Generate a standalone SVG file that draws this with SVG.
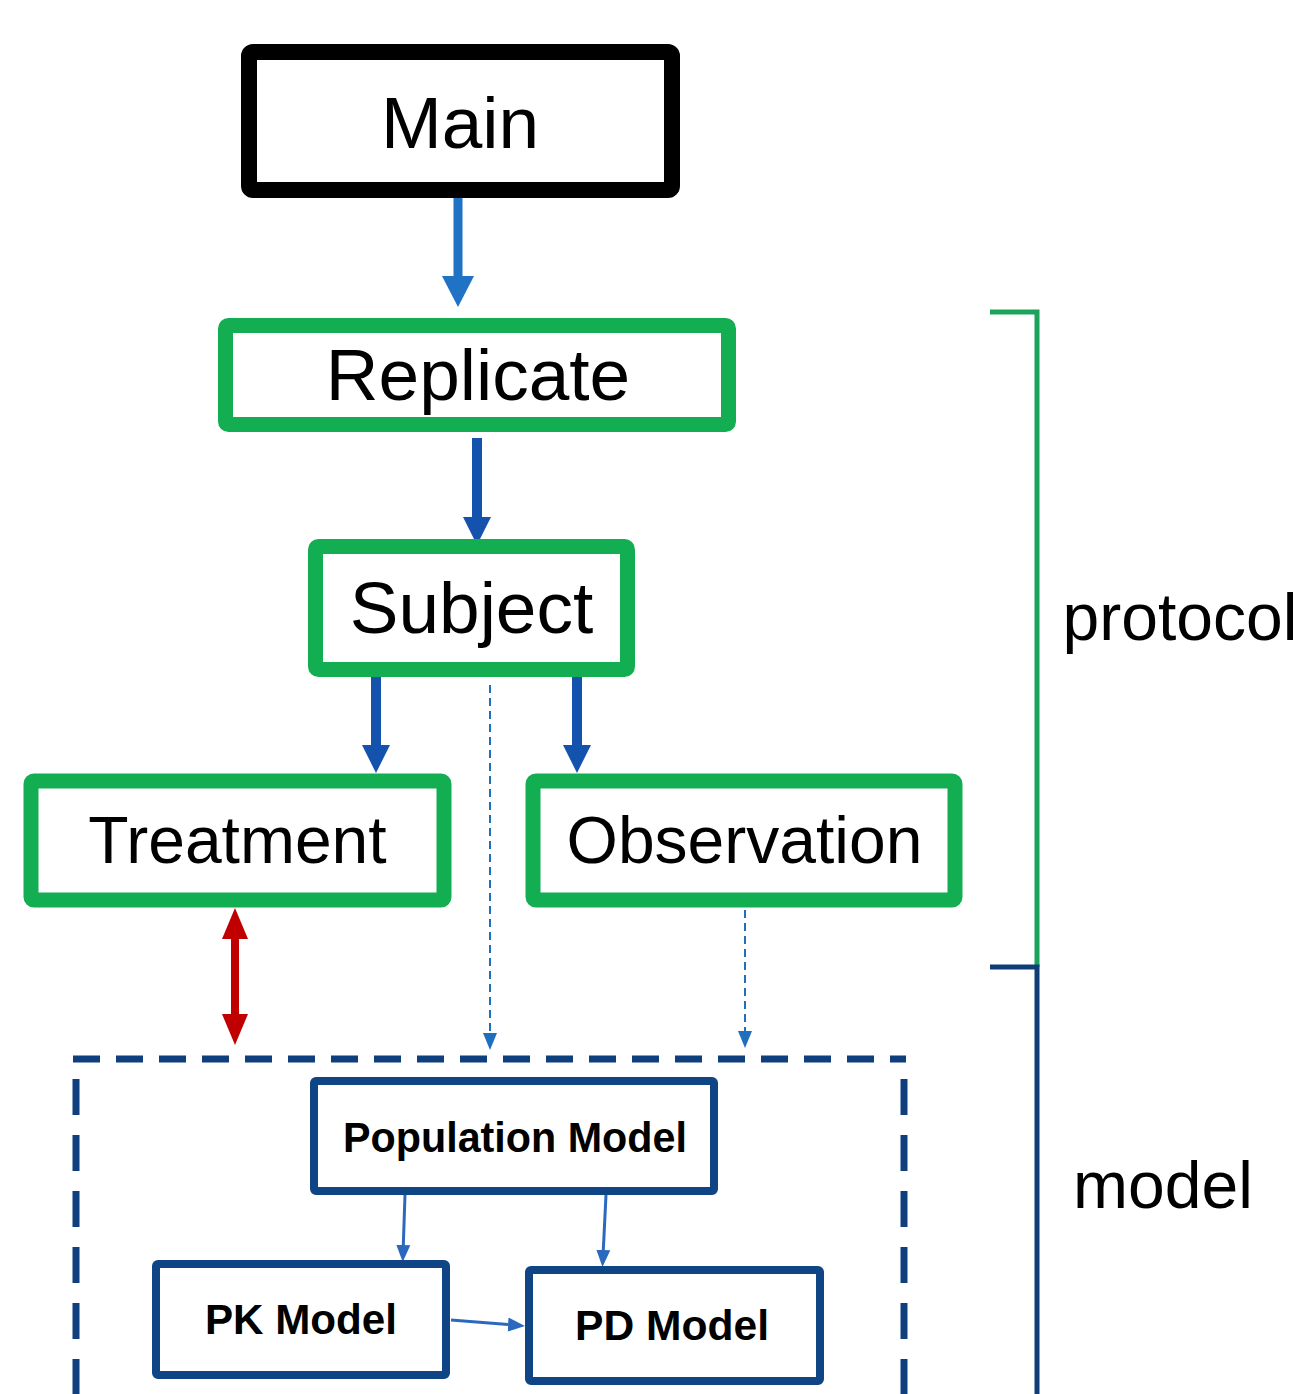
<svg xmlns="http://www.w3.org/2000/svg" width="1303" height="1394" viewBox="0 0 1303 1394">
<style>
text{font-family:"Liberation Sans",Arial,sans-serif;fill:#000;text-anchor:middle}
.big{font-size:73px}
.mid{font-size:66px}
.bold{font-size:43px;font-weight:bold}
.green{fill:#fff;stroke:#13ad52;stroke-width:15}
.mbox{fill:#fff;stroke:#0f4485;stroke-width:8}
.thick{stroke:#1352ad;stroke-width:10;fill:none}
.dash{stroke:#1f6fbf;stroke-width:2;stroke-dasharray:8 5;fill:none}
.thin{stroke:#2a69bd;stroke-width:3;fill:none}
</style>
<defs>
<marker id="aMain" markerUnits="userSpaceOnUse" markerWidth="32" markerHeight="32" refX="0" refY="16" orient="auto" viewBox="0 0 32 32"><path d="M0,0 L31,16 L0,32 z" fill="#1f72c4"/></marker>
<marker id="aBlue" markerUnits="userSpaceOnUse" markerWidth="30" markerHeight="30" refX="0" refY="15" orient="auto" viewBox="0 0 30 30"><path d="M0,1 L28,15 L0,29 z" fill="#1352ad"/></marker>
<marker id="aRed" markerUnits="userSpaceOnUse" markerWidth="32" markerHeight="28" refX="0" refY="14" orient="auto-start-reverse" viewBox="0 0 32 28"><path d="M0,1 L31,14 L0,27 z" fill="#c00000"/></marker>
<marker id="aThin" markerUnits="userSpaceOnUse" markerWidth="18" markerHeight="16" refX="0" refY="8" orient="auto" viewBox="0 0 18 16"><path d="M0,1 L17,8 L0,15 z" fill="#1f6fbf"/></marker>
<marker id="aMod" markerUnits="userSpaceOnUse" markerWidth="18" markerHeight="16" refX="0" refY="8" orient="auto" viewBox="0 0 18 16"><path d="M0,1 L17,8 L0,15 z" fill="#2a69bd"/></marker>
</defs>

<g id="connectors">
<line x1="458" y1="198" x2="458" y2="276" stroke="#1f72c4" stroke-width="9" marker-end="url(#aMain)"/>
<line class="thick" x1="477" y1="438" x2="477" y2="517" marker-end="url(#aBlue)"/>
<line class="thick" x1="376" y1="670" x2="376" y2="745" marker-end="url(#aBlue)"/>
<line class="thick" x1="577" y1="670" x2="577" y2="745" marker-end="url(#aBlue)"/>
<line x1="235" y1="939" x2="235" y2="1014" stroke="#c00000" stroke-width="8" marker-start="url(#aRed)" marker-end="url(#aRed)"/>
<line class="dash" x1="490" y1="685" x2="490" y2="1033" marker-end="url(#aThin)"/>
<line class="dash" x1="745" y1="910" x2="745" y2="1031" marker-end="url(#aThin)"/>
<line class="thin" x1="405" y1="1195" x2="403.3" y2="1245" marker-end="url(#aMod)"/>
<line class="thin" x1="606" y1="1195" x2="603.3" y2="1250" marker-end="url(#aMod)"/>
<line class="thin" x1="451" y1="1320" x2="508" y2="1324.6" marker-end="url(#aMod)"/>
</g>

<g id="brackets" fill="none" stroke-width="5">
<path d="M990,312 H1037 V967" stroke="#1ba35c"/>
<path d="M990,967 H1037 V1394" stroke="#0e3d78"/>
</g>

<g id="model-region" stroke="#0f3f7f" stroke-width="7" fill="none">
<line x1="73" y1="1059" x2="906" y2="1059" stroke-dasharray="27 16"/>
<line x1="76" y1="1059" x2="76" y2="1394" stroke-dasharray="36 20" stroke-dashoffset="-20"/>
<line x1="904" y1="1059" x2="904" y2="1394" stroke-dasharray="36 20" stroke-dashoffset="-20"/>
</g>

<g id="main">
<rect x="249" y="52" width="423" height="138" rx="4" fill="#fff" stroke="#000" stroke-width="16"/>
<text class="big" x="460" y="148">Main</text>
</g>
<g id="replicate">
<rect class="green" x="225.5" y="325.5" width="503" height="99" rx="3"/>
<text class="big" x="478" y="400">Replicate</text>
</g>
<g id="subject">
<rect class="green" x="315.5" y="546.5" width="312" height="123" rx="3"/>
<text class="big" x="471.5" y="633">Subject</text>
</g>
<g id="treatment">
<rect class="green" x="31" y="781" width="413" height="119" rx="3" stroke-width="16"/>
<text class="mid" x="237.5" y="863">Treatment</text>
</g>
<g id="observation">
<rect class="green" x="533" y="781" width="422" height="119" rx="3" stroke-width="16"/>
<text class="mid" x="744.5" y="863">Observation</text>
</g>
<g id="population-model">
<rect class="mbox" x="314" y="1081" width="400" height="110" rx="2"/>
<text class="bold" x="515" y="1152" textLength="344" lengthAdjust="spacingAndGlyphs">Population Model</text>
</g>
<g id="pk-model">
<rect class="mbox" x="156" y="1264" width="290" height="111" rx="2"/>
<text class="bold" x="301" y="1334" textLength="192" lengthAdjust="spacingAndGlyphs">PK Model</text>
</g>
<g id="pd-model">
<rect class="mbox" x="529" y="1270" width="291" height="111" rx="2"/>
<text class="bold" x="672" y="1340" textLength="194" lengthAdjust="spacingAndGlyphs">PD Model</text>
</g>

<g id="labels">
<text class="mid" x="1180" y="640">protocol</text>
<text class="mid" x="1163" y="1208">model</text>
</g>
</svg>
